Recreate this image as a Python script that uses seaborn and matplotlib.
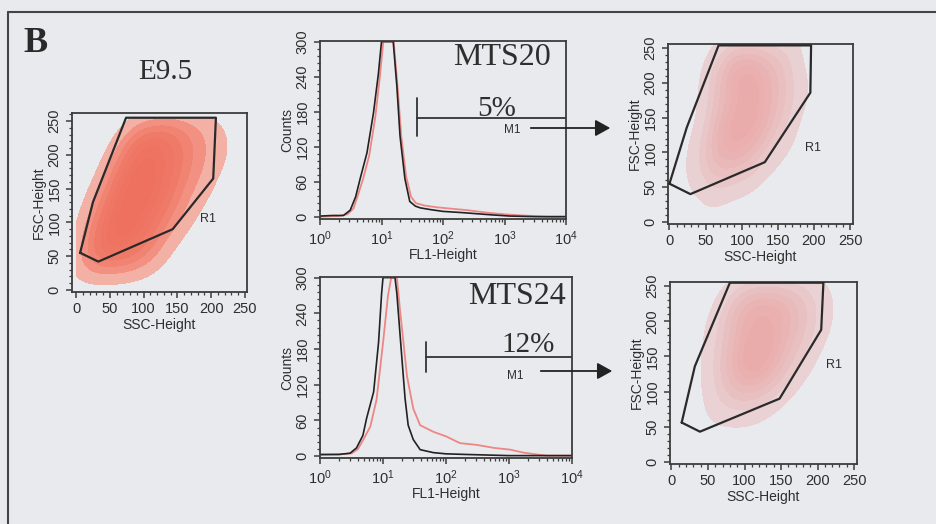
import numpy as np
import pandas as pd
import matplotlib
matplotlib.use("Agg")
import matplotlib.pyplot as plt
import seaborn as sns
from matplotlib.colors import LinearSegmentedColormap
from matplotlib.lines import Line2D
from matplotlib.ticker import MultipleLocator, LogLocator, NullFormatter

# ---- histogram data (FL1-Height, Counts) ----
mts20_ctrl_fl1 = [1.0, 1.6, 2.4, 3.1, 3.8, 4.5, 5.8, 7.4, 8.9, 10.0, 15.5, 17.8, 20.0, 24.0, 28.8, 35.5, 42.7, 63.1, 100, 200, 355, 631, 1230, 3160, 10000]
mts20_ctrl_cnt = [2, 3, 3, 12, 35, 66, 110, 178, 245, 300, 300, 223, 139, 66, 27, 19, 16, 13, 10, 8, 6, 4, 2, 1, 1]
mts20_stain_fl1 = [1.0, 2.0, 2.8, 3.5, 4.2, 5.0, 6.3, 7.9, 9.3, 10.7, 15.8, 18.2, 20.9, 25.1, 30.2, 36.3, 50.1, 79.4, 126, 251, 501, 1000, 2000, 5010, 10000]
mts20_stain_cnt = [1, 2, 5, 15, 40, 65, 105, 170, 235, 300, 300, 225, 140, 70, 35, 24, 20, 17, 15, 12, 8, 5, 3, 1, 1]

mts24_ctrl_fl1 = [1.0, 2.0, 3.0, 3.8, 4.8, 5.5, 7.1, 8.5, 9.5, 10.0, 15.5, 16.6, 20.0, 22.4, 25.1, 30.2, 38.9, 63.1, 100, 200, 1000, 10000]
mts24_ctrl_cnt = [3, 3, 5, 14, 35, 64, 108, 191, 273, 300, 300, 273, 163, 97, 52, 28, 11, 6, 4, 3, 1, 1]
mts24_stain_fl1 = [1.0, 2.0, 3.2, 4.0, 5.0, 6.3, 7.9, 10.0, 12.0, 13.5, 16.6, 18.6, 24.0, 30.2, 38.9, 63.1, 102, 166, 309, 575, 1050, 1700, 2750, 4000, 10000]
mts24_stain_cnt = [2, 3, 5, 12, 30, 50, 95, 190, 270, 300, 300, 246, 135, 80, 52, 41, 33, 22, 19, 14, 11, 6, 3, 1, 1]

# M1 marker gates (FL1 start, count span, bar level) and percentages
mts20_m1 = (37.8, 138, 204, 169)
mts24_m1 = (48.0, 141, 192, 167)
mts20_pct = "5%"
mts24_pct = "12%"

# ---- dot-plot densities on a 25-unit SSC x FSC grid (rows: FSC high -> low) ----
grid_centers = [12.5, 37.5, 62.5, 87.5, 112.5, 137.5, 162.5, 187.5, 212.5, 237.5]
e95_density = [
    [0, 0, 1, 6, 8, 8, 6, 4, 2, 1],
    [0, 0, 4, 8, 9, 8, 6, 4, 2, 1],
    [0, 1, 6, 9, 9, 8, 6, 4, 2, 1],
    [0, 3, 8, 9, 9, 8, 5, 3, 1, 0],
    [1, 5, 9, 9, 9, 7, 4, 2, 1, 0],
    [2, 7, 9, 9, 8, 6, 3, 1, 0, 0],
    [4, 8, 9, 9, 7, 4, 2, 0, 0, 0],
    [5, 9, 9, 8, 5, 2, 0, 0, 0, 0],
    [4, 7, 7, 6, 4, 1, 0, 0, 0, 0],
    [0, 0, 0, 0, 0, 0, 0, 0, 0, 0],
]
mts20_density = [
    [0, 0, 1, 4, 4, 3, 2, 0, 0, 0],
    [0, 0, 2, 4, 4, 3, 2, 0, 0, 0],
    [0, 0, 2, 3, 4, 3, 2, 1, 0, 0],
    [0, 0, 2, 3, 4, 3, 2, 0, 0, 0],
    [0, 0, 3, 4, 4, 3, 1, 0, 0, 0],
    [0, 1, 3, 4, 3, 2, 1, 0, 0, 0],
    [0, 1, 3, 3, 3, 1, 0, 0, 0, 0],
    [0, 1, 2, 2, 1, 0, 0, 0, 0, 0],
    [0, 0, 1, 0, 0, 0, 0, 0, 0, 0],
    [0, 0, 0, 0, 0, 0, 0, 0, 0, 0],
]
mts24_density = [
    [0, 0, 0, 4, 6, 6, 5, 3, 1, 0],
    [0, 0, 1, 5, 6, 6, 5, 3, 1, 0],
    [0, 0, 2, 5, 6, 6, 5, 3, 1, 0],
    [0, 0, 2, 5, 7, 6, 4, 2, 0, 0],
    [0, 0, 3, 6, 7, 6, 3, 1, 0, 0],
    [0, 0, 2, 5, 6, 4, 2, 0, 0, 0],
    [0, 0, 2, 3, 3, 2, 0, 0, 0, 0],
    [0, 0, 1, 1, 1, 0, 0, 0, 0, 0],
    [0, 0, 0, 0, 0, 0, 0, 0, 0, 0],
    [0, 0, 0, 0, 0, 0, 0, 0, 0, 0],
]

# R1 gate polygons (SSC, FSC)
e95_gate_ssc = [6, 33, 143, 203, 207, 74, 25, 6]
e95_gate_fsc = [55, 42, 90, 165, 255, 255, 130, 55]
mts20_gate_ssc = [0, 29, 132, 195, 196, 68, 24, 0]
mts20_gate_fsc = [55, 40, 86, 186, 254, 254, 136, 55]
mts24_gate_ssc = [14, 39, 148, 205, 208, 80, 32, 14]
mts24_gate_fsc = [56, 43, 90, 188, 255, 255, 136, 56]

W, H = 936, 524
BG = "#e9eaee"
INK = "#2e2e2e"
RED = "#ee8683"

sns.set_theme(style="ticks")
plt.rcParams["font.family"] = ["Liberation Sans", "DejaVu Sans"]
plt.rcParams["mathtext.fontset"] = "custom"
plt.rcParams["mathtext.rm"] = "Liberation Sans"
plt.rcParams["mathtext.it"] = "Liberation Sans"

fig = plt.figure(figsize=(W / 100, H / 100), dpi=100, facecolor=BG)


def px_ax(l, t, r, b):
    return fig.add_axes([l / W, 1 - b / H, (r - l) / W, (b - t) / H])


def style_axes(ax):
    ax.set_facecolor(BG)
    for s in ax.spines.values():
        s.set_color("#3c3c3c")
        s.set_linewidth(1.3)
    ax.tick_params(which="both", direction="out", color="#3c3c3c", labelcolor=INK)
    ax.tick_params(which="major", length=4, width=1.1, labelsize=10.5)
    ax.tick_params(which="minor", length=2.5, width=0.9)
    for lab in ax.get_yticklabels():
        lab.set_rotation(90)
        lab.set_va("center")


def dot_plot(ax, density, gate_x, gate_y, cmap, r1_xy, xlim, ylim, bw):
    gx, gy = np.meshgrid(grid_centers, grid_centers[::-1])
    df = pd.DataFrame({"ssc": gx.ravel(), "fsc": gy.ravel(),
                       "w": np.array(density, dtype=float).ravel()})
    df = df[df["w"] > 0]
    sns.kdeplot(data=df, x="ssc", y="fsc", weights="w", fill=True, cmap=cmap,
                levels=8, thresh=0.05, bw_adjust=bw,
                clip=((0, 255), (0, 256)), ax=ax)
    ax.plot(gate_x, gate_y, color="#2a2a2a", lw=1.6, zorder=5)
    ax.text(r1_xy[0], r1_xy[1], "R1", fontsize=9, color=INK, ha="center", va="center")
    ax.set_xlim(*xlim)
    ax.set_ylim(*ylim)
    ax.set_xticks([0, 50, 100, 150, 200, 250])
    ax.set_yticks([0, 50, 100, 150, 200, 250])
    ax.xaxis.set_minor_locator(MultipleLocator(10))
    ax.yaxis.set_minor_locator(MultipleLocator(10))
    ax.set_xlabel("SSC-Height", fontsize=10, color=INK, labelpad=1)
    ax.set_ylabel("FSC-Height", fontsize=10, color=INK, labelpad=1)
    style_axes(ax)


def histo(ax, ctrl_x, ctrl_y, st_x, st_y, m1):
    sns.lineplot(x=st_x, y=st_y, color=RED, lw=1.3, estimator=None, sort=False, ax=ax)
    sns.lineplot(x=ctrl_x, y=ctrl_y, color="#222222", lw=1.2, estimator=None, sort=False, ax=ax)
    ax.set_xscale("log")
    ax.set_xlim(1, 10000)
    ax.set_ylim(-3, 301)
    ax.set_yticks([0, 60, 120, 180, 240, 300])
    ax.yaxis.set_minor_locator(MultipleLocator(12))
    ax.xaxis.set_major_locator(LogLocator(base=10, numticks=6))
    ax.xaxis.set_minor_locator(LogLocator(base=10, subs=np.arange(2, 10), numticks=20))
    ax.xaxis.set_minor_formatter(NullFormatter())
    x0, y_lo, y_hi, y_bar = m1
    ax.plot([x0, x0], [y_lo, y_hi], color="#333333", lw=1.3)
    ax.plot([x0, 10000], [y_bar, y_bar], color="#333333", lw=1.3)
    ax.set_xlabel("FL1-Height", fontsize=10, color=INK, labelpad=0)
    ax.set_ylabel("Counts", fontsize=10, color=INK, labelpad=1)
    style_axes(ax)


e95_cmap = LinearSegmentedColormap.from_list("e95", ["#f3c4bc", "#f29484", "#f07b69", "#ee705e"])
sparse_cmap = LinearSegmentedColormap.from_list("sparse", ["#e9d7da", "#e9c0c1", "#eaaaa9"])

ax_e95 = px_ax(72, 113, 247, 292)
dot_plot(ax_e95, e95_density, e95_gate_ssc, e95_gate_fsc, e95_cmap, (195, 105), (-6, 253), (-3, 262), 0.75)

ax_h20 = px_ax(320, 41, 566, 219)
histo(ax_h20, mts20_ctrl_fl1, mts20_ctrl_cnt, mts20_stain_fl1, mts20_stain_cnt, mts20_m1)
ax_h24 = px_ax(320, 277, 572, 458)
histo(ax_h24, mts24_ctrl_fl1, mts24_ctrl_cnt, mts24_stain_fl1, mts24_stain_cnt, mts24_m1)

ax_d20 = px_ax(668, 44, 853, 224)
dot_plot(ax_d20, mts20_density, mts20_gate_ssc, mts20_gate_fsc, sparse_cmap, (199, 107), (-2, 254), (-3, 256), 0.9)
ax_d24 = px_ax(670, 282, 857, 464)
dot_plot(ax_d24, mts24_density, mts24_gate_ssc, mts24_gate_fsc, sparse_cmap, (223, 138), (-2, 254), (-3, 256), 0.9)

serif = ["Liberation Serif", "DejaVu Serif"]
ax_h20.text(0.74, 0.905, "MTS20", transform=ax_h20.transAxes, fontsize=23, family=serif,
            color=INK, ha="center", va="center")
ax_h20.text(0.72, 0.62, mts20_pct, transform=ax_h20.transAxes, fontsize=21, family=serif,
            color=INK, ha="center", va="center")
ax_h20.text(0.78, 0.50, "M1", transform=ax_h20.transAxes, fontsize=8.5, color=INK,
            ha="center", va="center")
ax_h24.text(0.78, 0.89, "MTS24", transform=ax_h24.transAxes, fontsize=23, family=serif,
            color=INK, ha="center", va="center")
ax_h24.text(0.825, 0.624, mts24_pct, transform=ax_h24.transAxes, fontsize=21, family=serif,
            color=INK, ha="center", va="center")
ax_h24.text(0.774, 0.453, "M1", transform=ax_h24.transAxes, fontsize=8.5, color=INK,
            ha="center", va="center")

# arrows from the M1 gates to the gated dot plots
for (x0, x1, y) in [(528, 613, 128), (538, 615, 371)]:
    fig.add_artist(matplotlib.patches.FancyArrowPatch(
        (x0 / W, 1 - y / H), (x1 / W, 1 - y / H), transform=fig.transFigure,
        arrowstyle="-|>,head_length=9,head_width=5", color="#222222", lw=1.3))

fig.text(36 / W, 1 - 44 / H, "B", fontsize=26, fontweight="bold", family=serif,
         color="#2a2a2a", ha="center", va="center")
fig.text(165 / W, 1 - 72 / H, "E9.5", fontsize=21, family=serif, color=INK,
         ha="center", va="center")

# panel frame
fig.add_artist(Line2D([8 / W, 1.0], [1 - 12 / H, 1 - 12 / H], transform=fig.transFigure,
                      color="#444444", lw=1.5))
fig.add_artist(Line2D([8 / W, 8 / W], [0.0, 1 - 12 / H], transform=fig.transFigure,
                      color="#444444", lw=1.5))

fig.savefig("out.png", dpi=100, facecolor=BG)
